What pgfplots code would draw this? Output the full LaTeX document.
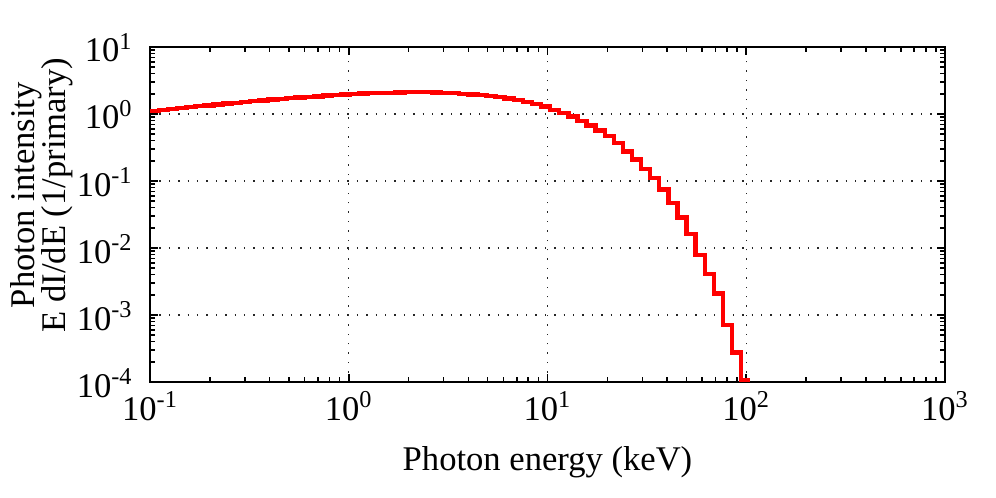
\documentclass[border=0pt]{standalone}
\usepackage{fontspec}
\setmainfont{Liberation Serif}
\usepackage{pgfplots}
\pgfplotsset{compat=1.18}
\pgfplotstableread{
x y
0.1 1.109
0.1111 1.147
0.1235 1.188
0.1372 1.225
0.1524 1.263
0.1694 1.303
0.1882 1.344
0.2091 1.386
0.2323 1.430
0.2581 1.474
0.2868 1.516
0.3187 1.558
0.3541 1.596
0.3934 1.635
0.4371 1.675
0.4857 1.716
0.5397 1.757
0.5996 1.800
0.6663 1.837
0.7403 1.876
0.8225 1.915
0.9139 1.948
1.0155 1.982
1.1283 2.009
1.2537 2.037
1.3930 2.058
1.5477 2.079
1.7197 2.094
1.9108 2.108
2.1231 2.115
2.3590 2.115
2.6211 2.101
2.9123 2.075
3.2359 2.040
3.5955 2.000
3.9950 1.958
4.4389 1.910
4.9321 1.857
5.4801 1.781
6.0890 1.692
6.7655 1.607
7.5173 1.526
8.3525 1.424
9.2806 1.299
10.312 1.159
11.458 1.035
12.731 0.921
14.145 0.794
15.717 0.676
17.463 0.569
19.403 0.474
21.559 0.369
23.955 0.277
26.616 0.208
29.574 0.151
32.860 0.112
36.511 0.0742
40.568 0.0469
45.075 0.0286
50.084 0.01634
55.648 0.00794
61.832 0.00409
68.702 0.00208
76.335 0.000716
84.817 0.000277
94.241 0.000107
104.71 0.000107
}\spectrum
\begin{document}
\fontsize{17.3}{20}\selectfont
\begin{tikzpicture}
\path[use as bounding box] (0,0) rectangle (498pt,249pt);
\begin{axis}[
  at={(75pt,58pt)}, anchor=south west,
  scale only axis, width=397.5pt, height=167.5pt,
  xmode=log, ymode=log,
  xmin=0.1, xmax=1000, ymin=1e-4, ymax=10,
  xtick={0.1,1,10,100,1000},
  xticklabels={10\textsuperscript{-1},10\textsuperscript{0},10\textsuperscript{1},10\textsuperscript{2},10\textsuperscript{3}},
  ytick={1e-4,1e-3,1e-2,1e-1,1,10},
  yticklabels={10\textsuperscript{-4},10\textsuperscript{-3},10\textsuperscript{-2},10\textsuperscript{-1},10\textsuperscript{0},10\textsuperscript{1}},
  xticklabel style={anchor=base, yshift=-19pt, inner sep=0pt},
  yticklabel style={anchor=base east, xshift=-8.5pt, yshift=-7.5pt, inner sep=0pt},
  grid=major,
  major grid style={black!85, line width=0.7pt, dash pattern=on 0.7pt off 4pt},
  axis line style={line width=1pt},
  tick style={black, line width=0.8pt},
  major tick length=4pt, minor tick length=2.5pt,
  clip=false,
]
\addplot[const plot, red, line width=2.2pt, line join=miter] table[x=x, y=y] {\spectrum};
\node[rotate=90, anchor=base] at (axis description cs:-0.1447,0.558) {Photon intensity};
\node[rotate=90, anchor=base] at (axis description cs:-0.1069,0.558) {E dI/dE (1/primary)};
\node[anchor=base] at (axis description cs:0.5,-0.2627) {Photon energy (keV)};
\end{axis}
\end{tikzpicture}
\end{document}
